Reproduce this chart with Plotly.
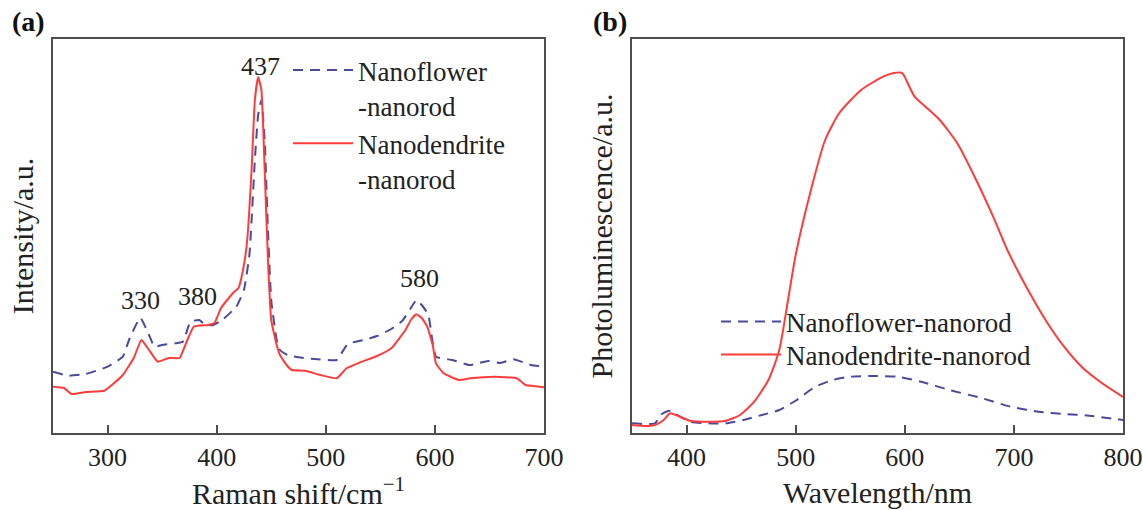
import plotly.graph_objects as go

# ---------------- data (a) Raman ----------------
raman_flower_x = [250, 264, 280, 300, 314, 320, 330, 338, 343, 350, 362, 369, 376, 384, 390, 397, 405, 418,
                  425, 430, 435, 438, 441, 444, 447, 450, 455, 458, 465, 475, 490, 510, 520, 535, 547, 560,
                  570, 578, 583, 588, 594, 601, 616, 632, 649, 660, 672, 688, 700]
raman_flower_y = [61.3, 57.3, 59, 66.3, 76.3, 94, 115.3, 98, 86.3, 88, 89.7, 91.3, 111.3, 113, 108, 108, 113, 126.3,
                  143, 178, 273, 318, 333, 293, 203, 133, 93, 83, 78, 75.7, 74, 73, 89, 93, 97, 104,
                  112, 125, 133, 128, 118, 76.3, 73, 68, 72, 70, 73.7, 68, 66.3]

raman_dendrite_x = [250, 260, 267, 280, 297, 306, 314, 324, 331, 338, 346, 356, 366, 372, 379, 392, 398, 404,
                    415, 420, 425, 428, 432, 435, 438, 441, 444, 447, 450, 455, 458, 464, 469, 481, 495, 510,
                    519, 530, 547, 560, 573, 578, 583, 588, 593, 598, 601, 608, 622, 632, 655, 675, 683, 690, 700]
raman_dendrite_y = [46.3, 45, 39, 41, 42.3, 50, 58, 75, 93, 83, 71.3, 75, 75, 90, 106.3, 108, 110, 125,
                    140, 145, 168, 193, 263, 333, 356, 343, 263, 173, 113, 88, 78, 68, 63, 62.3, 58, 54.7,
                    64.7, 70, 77, 84.7, 103, 113, 118.7, 115, 106.3, 88, 69.7, 59.7, 53, 54.7, 56.3, 54.7, 48, 47, 45.7]

peak_labels = ["330", "380", "437", "580"]
peak_label_x = [330, 382, 440, 586]
peak_label_y = [133, 137, 366, 155]

# ---------------- data (b) Photoluminescence ----------------
pl_flower_x = [350, 371, 376, 385, 394, 403, 420, 436, 452, 469, 485, 501, 518, 534, 550, 573, 593, 615,
               641, 671, 697, 723, 746, 769, 800]
pl_flower_y = [9.7, 9.7, 18, 22.3, 16.3, 11.3, 9.7, 9.7, 13, 18, 23, 33, 46.3, 53, 56.3, 57, 56.3, 51.3,
               43, 34.7, 26.3, 21.3, 19, 17.3, 13]

pl_dendrite_x = [350, 363, 371, 379, 385, 394, 403, 420, 436, 449, 462, 475, 485, 493, 500, 514, 527, 540,
                 560, 580, 590, 597, 599, 609, 619, 632, 648, 664, 681, 694, 713, 730, 746, 762, 779, 800]
pl_dendrite_y = [8, 7, 8, 13, 19.7, 16.3, 12.3, 11.3, 12.3, 18, 31.3, 53, 83, 133, 178, 243, 293, 320,
                 343, 356.3, 360, 360.3, 358, 336.3, 326.3, 313, 290, 256.3, 216.3, 183, 143, 111.3, 86.3, 66.3, 51.3, 36]

names = ["Nanoflower-nanorod", "Nanodendrite-nanorod"]

# ---------------- styling ----------------
FONT = "Liberation Serif, Times New Roman, serif"
BLUE = "#4a4a9c"
RED = "#ff3c3c"
AXC = "#4d4d4d"
W, H = 1143, 510

fig = go.Figure()

fig.add_trace(go.Scatter(x=raman_flower_x, y=raman_flower_y, mode="lines",
                         name="Nanoflower<br>-nanorod", legend="legend",
                         line=dict(color=BLUE, width=2, dash="10px,7px", shape="spline", smoothing=0.4),
                         xaxis="x", yaxis="y"))
fig.add_trace(go.Scatter(x=raman_dendrite_x, y=raman_dendrite_y, mode="lines",
                         name="Nanodendrite<br>-nanorod", legend="legend",
                         line=dict(color=RED, width=2, shape="spline", smoothing=0.4),
                         xaxis="x", yaxis="y"))
fig.add_trace(go.Scatter(x=pl_flower_x, y=pl_flower_y, mode="lines",
                         name=names[0], legend="legend2",
                         line=dict(color=BLUE, width=2, dash="10px,7px", shape="spline", smoothing=0.6),
                         xaxis="x2", yaxis="y2"))
fig.add_trace(go.Scatter(x=pl_dendrite_x, y=pl_dendrite_y, mode="lines",
                         name=names[1], legend="legend3",
                         line=dict(color=RED, width=2, shape="spline", smoothing=0.6),
                         xaxis="x2", yaxis="y2"))

def px_x(p):
    return p / W

def px_y(p):
    return 1 - p / H

common_x = dict(showline=True, mirror=True, linecolor=AXC, linewidth=2,
                ticks="inside", ticklen=8, tickwidth=2, tickcolor=AXC,
                tickfont=dict(family=FONT, size=26, color="#222"),
                showgrid=False, zeroline=False, dtick=100, automargin=False)
common_y = dict(showline=True, mirror=True, linecolor=AXC, linewidth=2,
                showticklabels=False, ticks="", showgrid=False, zeroline=False,
                range=[0, 394], automargin=False)

leg_common = dict(xanchor="left", font=dict(family=FONT, size=27, color="#222"),
                  bgcolor="rgba(0,0,0,0)", itemwidth=60)

TITLE_FONT = dict(family=FONT, size=30, color="#222")

fig.update_layout(
    width=W, height=H, autosize=False,
    margin=dict(l=0, r=0, t=0, b=0, autoexpand=False),
    paper_bgcolor="white", plot_bgcolor="white",
    font=dict(family=FONT, color="#222"),
    xaxis=dict(**common_x, domain=[px_x(53), px_x(544)], range=[250, 700], anchor="y",
               title=dict(text="Raman shift/cm<sup>−1</sup>", font=TITLE_FONT, standoff=11)),
    yaxis=dict(**common_y, domain=[px_y(433), px_y(39)], anchor="x",
               title=dict(text="Intensity/a.u.", font=TITLE_FONT, standoff=9)),
    xaxis2=dict(**common_x, domain=[px_x(632), px_x(1123)], range=[350, 800], anchor="y2",
                title=dict(text="Wavelength/nm", font=TITLE_FONT, standoff=11)),
    yaxis2=dict(**common_y, domain=[px_y(433), px_y(39)], anchor="x2",
                title=dict(text="Photoluminescence/a.u.", font=TITLE_FONT, standoff=9)),
    legend=dict(**leg_common, x=px_x(288), y=px_y(46), yanchor="top", valign="top"),
    legend2=dict(**leg_common, x=px_x(716), y=px_y(322), yanchor="middle"),
    legend3=dict(**leg_common, x=px_x(716), y=px_y(355), yanchor="middle"),
    showlegend=True,
)

for lab, lx, ly in zip(peak_labels, peak_label_x, peak_label_y):
    fig.add_annotation(x=lx, y=ly, xref="x", yref="y", text=lab, showarrow=False,
                       xanchor="center", yanchor="middle",
                       font=dict(family=FONT, size=26, color="#222"))

fig.add_annotation(x=px_x(28), y=px_y(22), xref="paper", yref="paper", text="<b>(a)</b>",
                   showarrow=False, xanchor="center", yanchor="middle",
                   font=dict(family=FONT, size=28, color="#111"))
fig.add_annotation(x=px_x(610), y=px_y(22), xref="paper", yref="paper", text="<b>(b)</b>",
                   showarrow=False, xanchor="center", yanchor="middle",
                   font=dict(family=FONT, size=28, color="#111"))

fig.write_html("out.html", config={"responsive": False})
